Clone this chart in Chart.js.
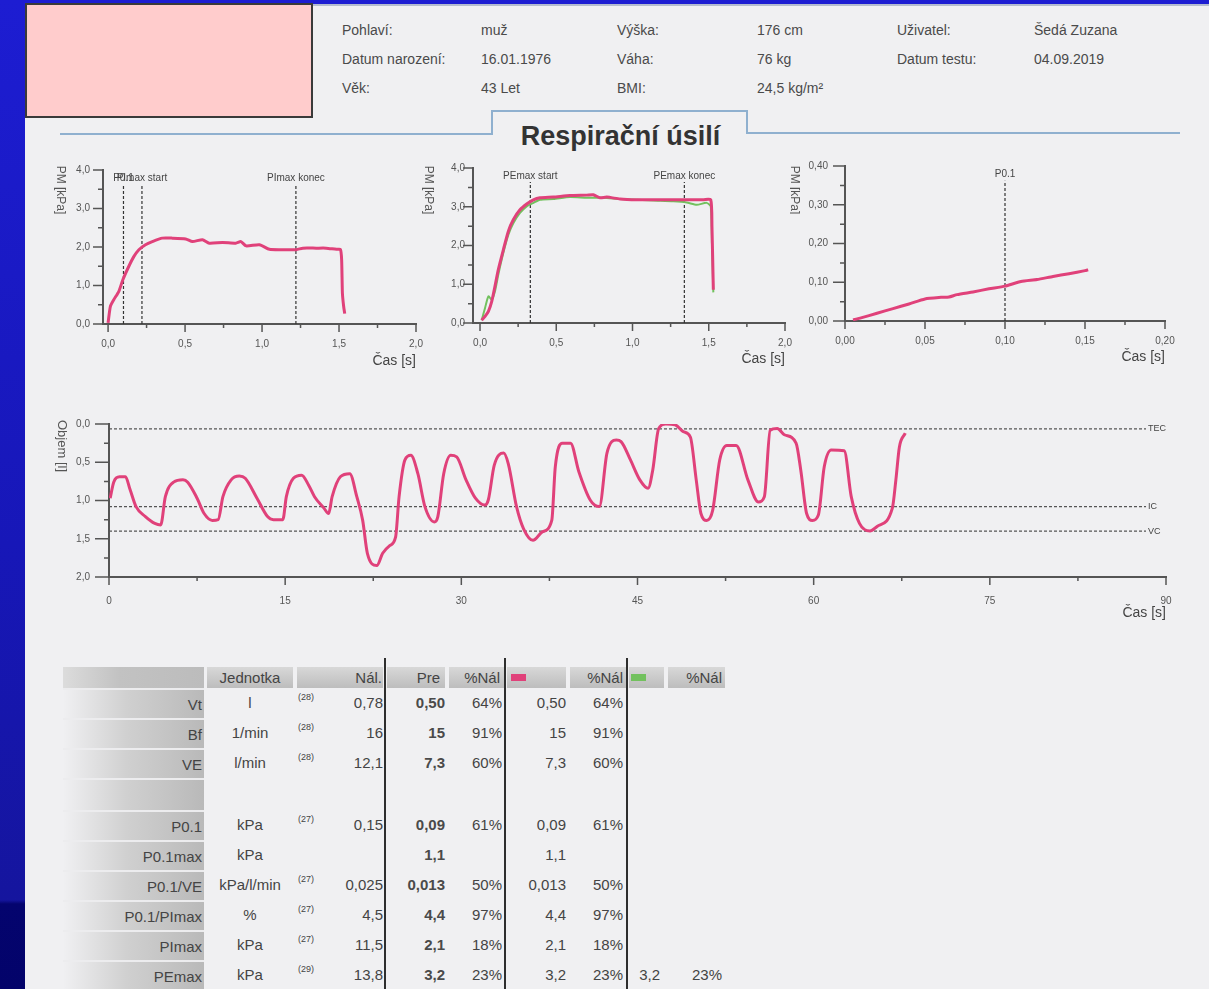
<!DOCTYPE html>
<html lang="cs">
<head>
<meta charset="utf-8">
<title>Respirační úsilí</title>
<script src="https://cdn.jsdelivr.net/npm/chart.js@4/dist/chart.umd.min.js"></script>
<style>
  html, body { margin: 0; padding: 0; }
  body {
    width: 1209px; height: 989px; overflow: hidden; position: relative;
    font-family: "Liberation Sans", Arial, sans-serif;
    background: linear-gradient(to bottom, #1d1dd2 0%, #1717b8 55%, #15159e 91%, #04046e 91.4%, #03036a 100%);
  }
  .abs { position: absolute; }
  #paper { left: 25px; top: 4px; width: 1184px; height: 985px; background: #f0f0f2; }
  #topEdge { left: 313px; top: 4px; width: 896px; height: 2px; background: #b4bccf; }
  #photo { left: 25px; top: 3px; width: 288px; height: 115px; background: #ffcccc; border: 2px solid #3a3a3a; box-sizing: border-box; }
  .info { font-size: 14px; color: #4a4a4a; line-height: 16px; white-space: nowrap; }
  .tab { background: #8fb0cf; }
  #title { left: 473px; width: 295px; top: 120px; text-align: center; font-size: 27px; font-weight: bold; color: #333; line-height: 32px; }
  canvas { position: absolute; }
  .cell { position: absolute; font-size: 15px; color: #444; white-space: nowrap; box-sizing: border-box; }
  .hcell { position: absolute; top: 667px; height: 21px; background: linear-gradient(to bottom, #d8d8d8, #bdbdbd); }
  .vline { position: absolute; top: 658px; width: 2px; height: 331px; background: #2e2e2e; }
</style>
</head>
<body>
<div id="paper" class="abs"></div>
<div id="topEdge" class="abs"></div>
<div id="photo" class="abs"></div>

<div class="abs info" style="left:342px;top:22px">Pohlaví:</div>
<div class="abs info" style="left:481px;top:22px">muž</div>
<div class="abs info" style="left:617px;top:22px">Výška:</div>
<div class="abs info" style="left:757px;top:22px">176 cm</div>
<div class="abs info" style="left:897px;top:22px">Uživatel:</div>
<div class="abs info" style="left:1034px;top:22px">Šedá Zuzana</div>
<div class="abs info" style="left:342px;top:51px">Datum narození:</div>
<div class="abs info" style="left:481px;top:51px">16.01.1976</div>
<div class="abs info" style="left:617px;top:51px">Váha:</div>
<div class="abs info" style="left:757px;top:51px">76 kg</div>
<div class="abs info" style="left:897px;top:51px">Datum testu:</div>
<div class="abs info" style="left:1034px;top:51px">04.09.2019</div>
<div class="abs info" style="left:342px;top:80px">Věk:</div>
<div class="abs info" style="left:481px;top:80px">43 Let</div>
<div class="abs info" style="left:617px;top:80px">BMI:</div>
<div class="abs info" style="left:757px;top:80px">24,5 kg/m²</div>

<div class="abs tab" style="left:60px;top:133px;width:433px;height:2px"></div>
<div class="abs tab" style="left:491px;top:110px;width:2px;height:25px"></div>
<div class="abs tab" style="left:491px;top:110px;width:257px;height:2px"></div>
<div class="abs tab" style="left:746px;top:110px;width:2px;height:24px"></div>
<div class="abs tab" style="left:746px;top:132px;width:434px;height:2px"></div>
<div id="title" class="abs">Respirační úsilí</div>

<canvas id="cPI" width="390" height="215" style="left:50px;top:160px"></canvas>
<canvas id="cPE" width="390" height="215" style="left:420px;top:158px"></canvas>
<canvas id="cP01" width="400" height="215" style="left:790px;top:156px"></canvas>
<canvas id="cVol" width="1140" height="225" style="left:50px;top:410px"></canvas>

<div id="table"></div>

<script>
// --- PImax: tlak v čase
const piTime  = [0.00, 0.015, 0.037, 0.07, 0.096, 0.135, 0.167, 0.20, 0.243, 0.287, 0.352, 0.417, 0.504, 0.548, 0.613, 0.657, 0.743, 0.83, 0.863, 0.896, 0.983, 1.048, 1.135, 1.222, 1.265, 1.352, 1.417, 1.483, 1.509, 1.517, 1.522, 1.53, 1.537];
const piValue = [0.03, 0.46, 0.63, 0.85, 1.15, 1.50, 1.75, 1.93, 2.06, 2.14, 2.23, 2.23, 2.21, 2.14, 2.19, 2.10, 2.12, 2.10, 2.14, 2.03, 2.06, 1.94, 1.93, 1.93, 1.97, 1.97, 1.97, 1.94, 1.94, 1.67, 0.80, 0.46, 0.27];
const piMarkTimes = [0.10, 0.22, 1.22];
const piMarkNames = ['P0.1', 'PImax start', 'PImax konec'];

// --- PEmax: dva pokusy
const peTime      = [0.011, 0.033, 0.055, 0.077, 0.098, 0.12, 0.153, 0.186, 0.219, 0.262, 0.306, 0.35, 0.393, 0.481, 0.59, 0.70, 0.743, 0.787, 0.831, 0.918, 1.027, 1.137, 1.246, 1.355, 1.464, 1.513, 1.521, 1.53];
const pePink      = [0.07, 0.17, 0.30, 0.56, 0.95, 1.38, 1.89, 2.37, 2.67, 2.92, 3.07, 3.18, 3.23, 3.25, 3.29, 3.30, 3.31, 3.23, 3.25, 3.20, 3.18, 3.18, 3.18, 3.18, 3.18, 3.18, 2.49, 0.86];
const greenTime   = [0.011, 0.033, 0.055, 0.077, 0.098, 0.12, 0.153, 0.186, 0.219, 0.262, 0.306, 0.35, 0.393, 0.481, 0.59, 0.70, 0.809, 0.918, 1.137, 1.268, 1.355, 1.421, 1.486, 1.513, 1.521, 1.53];
const peGreen     = [0.07, 0.39, 0.69, 0.60, 0.82, 1.25, 1.81, 2.28, 2.58, 2.84, 3.01, 3.10, 3.18, 3.20, 3.25, 3.23, 3.23, 3.20, 3.16, 3.14, 3.11, 3.05, 3.10, 3.01, 2.06, 0.79];
const peMarkTimes = [0.33, 1.34];
const peMarkNames = ['PEmax start', 'PEmax konec'];

// --- P0.1
const p01Time  = [0.005, 0.01, 0.02, 0.03, 0.04, 0.05, 0.06, 0.065, 0.07, 0.08, 0.09, 0.10, 0.11, 0.12, 0.13, 0.14, 0.15, 0.152];
const p01Value = [0.003, 0.008, 0.02, 0.032, 0.044, 0.057, 0.061, 0.062, 0.068, 0.075, 0.083, 0.09, 0.102, 0.107, 0.115, 0.122, 0.13, 0.132];
const p01MarkTimes = [0.10];
const p01MarkNames = ['P0.1'];

// --- objem v čase
const volTime  = [0.1, 0.4, 0.9, 1.4, 1.8, 2.3, 3.1, 3.9, 4.4, 4.8, 5.5, 6.3, 6.7, 7.5, 8.1, 8.8, 9.3, 9.7, 10.4, 11.1, 11.6, 12.6, 13.5, 14.0, 14.8, 15.1, 15.7, 16.4, 17.0, 17.5, 18.3, 18.7, 19.0, 19.7, 20.5, 21.1, 21.6, 22.0, 22.8, 23.3, 23.9, 24.4, 24.7, 25.2, 25.7, 26.3, 26.9, 27.7, 28.0, 28.5, 29.1, 29.6, 30.4, 31.2, 32.0, 32.3, 32.8, 33.6, 34.0, 34.7, 35.3, 36.1, 36.9, 37.7, 38.0, 38.6, 39.3, 40.0, 41.0, 41.75, 42.4, 43.2, 43.6, 44.4, 45.2, 45.9, 46.3, 46.8, 47.4, 48.2, 48.9, 49.5, 50.0, 50.4, 50.9, 51.4, 52.0, 52.6, 53.4, 54.4, 55.3, 55.8, 56.3, 56.9, 57.5, 58.5, 58.9, 59.4, 59.9, 60.4, 60.9, 61.5, 62.6, 63.2, 63.9, 64.8, 65.4, 66.7, 67.0, 67.3, 67.8];
const volValue = [0.97, 0.76, 0.69, 0.69, 0.86, 1.08, 1.21, 1.30, 1.32, 0.95, 0.76, 0.73, 0.76, 0.97, 1.17, 1.26, 1.25, 0.95, 0.73, 0.68, 0.71, 0.97, 1.21, 1.25, 1.25, 0.95, 0.71, 0.67, 0.80, 0.95, 1.10, 1.17, 0.95, 0.69, 0.65, 0.95, 1.26, 1.69, 1.85, 1.69, 1.59, 1.48, 0.95, 0.47, 0.41, 0.65, 1.08, 1.28, 1.21, 0.65, 0.41, 0.43, 0.73, 0.97, 1.06, 0.99, 0.54, 0.38, 0.52, 1.08, 1.37, 1.52, 1.41, 1.26, 0.56, 0.25, 0.25, 0.62, 1.00, 1.08, 0.38, 0.21, 0.23, 0.47, 0.73, 0.84, 0.60, 0.06, 0.00, 0.01, 0.10, 0.17, 0.73, 1.17, 1.26, 1.13, 0.47, 0.28, 0.28, 0.73, 1.02, 0.95, 0.08, 0.06, 0.14, 0.25, 0.60, 1.17, 1.26, 1.19, 0.56, 0.34, 0.35, 0.95, 1.30, 1.40, 1.34, 1.10, 0.73, 0.30, 0.12];
const volLevels = [0.065, 1.08, 1.40];
const volLevelNames = ['TEC', 'IC', 'VC'];
const volLevelEnd = 88.3;

// --- popisky os
const pTimeTicks   = [0, 0.25, 0.5, 0.75, 1.0, 1.25, 1.5, 1.75, 2.0];
const pTimeLabels  = ['0,0', '', '0,5', '', '1,0', '', '1,5', '', '2,0'];
const pValTicks    = [0, 0.5, 1, 1.5, 2, 2.5, 3, 3.5, 4];
const pValLabels   = ['0,0', '', '1,0', '', '2,0', '', '3,0', '', '4,0'];
const p01TimeTicks  = [0, 0.025, 0.05, 0.075, 0.1, 0.125, 0.15, 0.175, 0.2];
const p01TimeLabels = ['0,00', '', '0,05', '', '0,10', '', '0,15', '', '0,20'];
const p01ValTicks   = [0, 0.05, 0.1, 0.15, 0.2, 0.25, 0.3, 0.35, 0.4];
const p01ValLabels  = ['0,00', '', '0,10', '', '0,20', '', '0,30', '', '0,40'];
const volTimeTicks  = [0, 7.5, 15, 22.5, 30, 37.5, 45, 52.5, 60, 67.5, 75, 82.5, 90];
const volTimeLabels = ['0', '', '15', '', '30', '', '45', '', '60', '', '75', '', '90'];
const volValTicks   = [0, 0.25, 0.5, 0.75, 1, 1.25, 1.5, 1.75, 2];
const volValLabels  = ['0,0', '', '0,5', '', '1,0', '', '1,5', '', '2,0'];

// --- tabulka
const rowNames   = ['Vt', 'Bf', 'VE', '', 'P0.1', 'P0.1max', 'P0.1/VE', 'P0.1/PImax', 'PImax', 'PEmax'];
const rowUnits   = ['l', '1/min', 'l/min', '', 'kPa', 'kPa', 'kPa/l/min', '%', 'kPa', 'kPa'];
const rowRefs    = ['(28)', '(28)', '(28)', '', '(27)', '', '(27)', '(27)', '(27)', '(29)'];
const rowNal     = ['0,78', '16', '12,1', '', '0,15', '', '0,025', '4,5', '11,5', '13,8'];
const rowPre     = ['0,50', '15', '7,3', '', '0,09', '1,1', '0,013', '4,4', '2,1', '3,2'];
const rowPrePct  = ['64%', '91%', '60%', '', '61%', '', '50%', '97%', '18%', '23%'];
const rowPink    = ['0,50', '15', '7,3', '', '0,09', '1,1', '0,013', '4,4', '2,1', '3,2'];
const rowPinkPct = ['64%', '91%', '60%', '', '61%', '', '50%', '97%', '18%', '23%'];
const rowGreen   = ['', '', '', '', '', '', '', '', '', '3,2'];
const rowGreenPct= ['', '', '', '', '', '', '', '', '', '23%'];

const PINK = '#e0417a';
const GREEN = '#72c15e';
const AXIS = '#555';

const pts = (xs, ys) => xs.map((x, i) => ({ x, y: ys[i] }));

// svislé čárkované značky
function markerSets(times, topVal) {
  return times.map(t => ({
    data: [{ x: t, y: 0 }, { x: t, y: topVal }],
    borderColor: '#333', borderWidth: 1.2, borderDash: [3, 2], pointRadius: 0
  }));
}

// vodorovné čárkované úrovně
function levelSets(levels, end) {
  return levels.map(v => ({
    data: [{ x: 0, y: v }, { x: end, y: v }],
    borderColor: '#555', borderWidth: 1.3, borderDash: [3, 2], pointRadius: 0
  }));
}

// tl = odstup popisků od osy (tickLength se počítá i se skrytou mřížkou)
function axis(o) {
  return {
    type: 'linear', min: o.min, max: o.max, reverse: !!o.reverse,
    grid: { display: false, tickLength: o.tl },
    border: { display: true, color: AXIS, width: 2 },
    afterBuildTicks: s => { s.ticks = o.ticks.map(v => ({ value: v })); },
    afterFit: s => { if (o.w) s.width = o.w; if (o.h) s.height = o.h; },
    ticks: {
      autoSkip: false, maxRotation: 0, padding: o.pad,
      color: '#555', font: { size: 10, family: 'Liberation Sans, Arial' },
      callback: (v, i) => o.labels[i]
    },
    title: o.title ? {
      display: true, text: o.title, align: 'end', color: '#444',
      font: { size: 14, family: 'Liberation Sans, Arial' },
      padding: { top: 0, bottom: o.titlePad }
    } : { display: false }
  };
}

// kreslí zářezy os, svislý popisek osy y a popisky značek
const decor = {
  id: 'decor',
  afterDraw(chart, args, o) {
    const { ctx, chartArea: a, scales: { x, y } } = chart;
    ctx.save();
    ctx.strokeStyle = AXIS;
    ctx.lineWidth = 1.5;
    ctx.beginPath();
    x.ticks.forEach(t => {
      const px = x.getPixelForValue(t.value);
      ctx.moveTo(px, a.bottom);
      ctx.lineTo(px, a.bottom + (t.label ? 8 : 4));
    });
    y.ticks.forEach(t => {
      const py = y.getPixelForValue(t.value);
      ctx.moveTo(a.left, py);
      ctx.lineTo(a.left - (t.label ? o.tickLen : 5), py);
    });
    ctx.stroke();

    ctx.fillStyle = '#555';
    ctx.font = o.yTitleSize + 'px "Liberation Sans", Arial';
    ctx.textAlign = 'center';
    ctx.textBaseline = 'middle';
    ctx.save();
    ctx.translate(a.left + o.yTitleX, a.top + o.yTitleY);
    ctx.rotate(Math.PI / 2);
    ctx.fillText(o.yTitle, 0, 0);
    ctx.restore();

    ctx.font = '10px "Liberation Sans", Arial';
    ctx.fillStyle = '#444';
    (o.marks || []).forEach((t, i) => {
      ctx.fillText(o.markNames[i], x.getPixelForValue(t), a.top + 8);
    });
    ctx.textAlign = 'left';
    ctx.font = '9px "Liberation Sans", Arial';
    (o.levels || []).forEach((v, i) => {
      ctx.fillText(o.levelNames[i], x.getPixelForValue(o.levelEnd) + 2, y.getPixelForValue(v));
    });
    ctx.restore();
  }
};

function makeChart(id, datasets, xAxis, yAxis, padding, decorOpts) {
  return new Chart(document.getElementById(id), {
    type: 'line',
    data: { datasets },
    options: {
      responsive: false, animation: false, devicePixelRatio: 1,
      layout: { padding },
      elements: { line: { fill: false } },
      plugins: { legend: { display: false }, tooltip: { enabled: false }, decor: decorOpts },
      scales: { x: xAxis, y: yAxis }
    },
    plugins: [decor]
  });
}

const curve = (data, color, width) => ({
  data, borderColor: color, borderWidth: width, pointRadius: 0, tension: 0.2
});

// první dataset se kreslí navrch
makeChart('cPI',
  [curve(pts(piTime, piValue), PINK, 3), ...markerSets(piMarkTimes, 3.62)],
  axis({ min: -0.033, max: 2.0, ticks: pTimeTicks, labels: pTimeLabels, tl: 8, pad: 6, h: 51, title: 'Čas [s]', titlePad: 5 }),
  axis({ min: 0, max: 4, ticks: pValTicks, labels: pValLabels, tl: 13, pad: 0, w: 53 }),
  { top: 10, right: 24, bottom: 0, left: 0 },
  { yTitle: 'PM [kPa]', yTitleSize: 12, yTitleX: -43, yTitleY: 20, tickLen: 10, marks: piMarkTimes, markNames: piMarkNames });

makeChart('cPE',
  [curve(pts(peTime, pePink), PINK, 3), curve(pts(greenTime, peGreen), GREEN, 2), ...markerSets(peMarkTimes, 3.64)],
  axis({ min: -0.046, max: 2.0, ticks: pTimeTicks, labels: pTimeLabels, tl: 8, pad: 6, h: 50, title: 'Čas [s]', titlePad: 5 }),
  axis({ min: 0, max: 4, ticks: pValTicks, labels: pValLabels, tl: 8, pad: 0, w: 53 }),
  { top: 10, right: 25, bottom: 0, left: 0 },
  { yTitle: 'PM [kPa]', yTitleSize: 12, yTitleX: -45, yTitleY: 22, tickLen: 10, marks: peMarkTimes, markNames: peMarkNames });

makeChart('cP01',
  [curve(pts(p01Time, p01Value), PINK, 3), ...markerSets(p01MarkTimes, 0.362)],
  axis({ min: 0, max: 0.2, ticks: p01TimeTicks, labels: p01TimeLabels, tl: 8, pad: 6, h: 50, title: 'Čas [s]', titlePad: 5 }),
  axis({ min: 0, max: 0.4, ticks: p01ValTicks, labels: p01ValLabels, tl: 17, pad: 0, w: 55 }),
  { top: 10, right: 25, bottom: 0, left: 0 },
  { yTitle: 'PM [kPa]', yTitleSize: 12, yTitleX: -51, yTitleY: 24, tickLen: 12, marks: p01MarkTimes, markNames: p01MarkNames });

makeChart('cVol',
  [{ ...curve(pts(volTime, volValue), PINK, 3), tension: 0, cubicInterpolationMode: 'monotone' }, ...levelSets(volLevels, volLevelEnd)],
  axis({ min: 0, max: 90, ticks: volTimeTicks, labels: volTimeLabels, tl: 8, pad: 10, h: 58, title: 'Čas [s]', titlePad: 13 }),
  axis({ min: 0, max: 2, reverse: true, ticks: volValTicks, labels: volValLabels, tl: 19, pad: 0, w: 59 }),
  { top: 14, right: 24, bottom: 0, left: 0 },
  { yTitle: 'Objem [l]', yTitleSize: 13, yTitleX: -47, yTitleY: 22, tickLen: 14, levels: volLevels, levelNames: volLevelNames, levelEnd: volLevelEnd });

// --- tabulka hodnot
const table = document.getElementById('table');
const headCells = [[63, 141], [207, 86], [297, 86], [387, 58], [449, 55], [507, 59], [570, 56], [629, 35], [668, 57]];
headCells.forEach(([x, w], i) => {
  const d = document.createElement('div');
  d.className = 'hcell';
  d.style.left = x + 'px';
  d.style.width = w + 'px';
  if (i === 0) d.style.background = 'linear-gradient(to right, #dcdcdc, #c2c2c2 40%, #bcbcbc)';
  table.appendChild(d);
});

function cell(text, x, w, y, h, align, extra) {
  const d = document.createElement('div');
  d.className = 'cell';
  d.textContent = text;
  Object.assign(d.style, { left: x + 'px', width: w + 'px', top: y + 'px', height: h + 'px', lineHeight: h + 'px', textAlign: align }, extra || {});
  table.appendChild(d);
  return d;
}

const headTop = 667, headH = 21;
cell('Jednotka', 207, 86, headTop, headH, 'center');
cell('Nál.', 297, 85, headTop, headH, 'right');
cell('Pre', 387, 53, headTop, headH, 'right');
cell('%Nál', 449, 51, headTop, headH, 'right');
cell('%Nál', 570, 53, headTop, headH, 'right');
cell('%Nál', 668, 54, headTop, headH, 'right');
[[PINK, 511], [GREEN, 631]].forEach(([c, x]) => {
  const s = document.createElement('div');
  Object.assign(s.style, { position: 'absolute', left: x + 'px', top: '674px', width: '15px', height: '7px', background: c });
  table.appendChild(s);
});

let rowTop = 688;
rowNames.forEach((name, i) => {
  const h = name === '' ? 32 : 30;
  cell(name, 63, 141, rowTop, h, 'right', {
    paddingRight: '2px',
    background: 'linear-gradient(to right, rgba(240,240,242,1) 0%, #d0d0d0 45%, #b9b9b9 100%)',
    borderTop: '2px solid #ececee'
  });
  cell(rowUnits[i], 207, 86, rowTop, h, 'center');
  cell(rowRefs[i], 298, 24, rowTop + 3, 12, 'left', { fontSize: '9px', lineHeight: '12px' });
  cell(rowNal[i], 322, 61, rowTop, h, 'right');
  cell(rowPre[i], 386, 59, rowTop, h, 'right', { fontWeight: 'bold', color: '#4a4a4a' });
  cell(rowPrePct[i], 445, 57, rowTop, h, 'right');
  cell(rowPink[i], 506, 60, rowTop, h, 'right');
  cell(rowPinkPct[i], 566, 57, rowTop, h, 'right');
  cell(rowGreen[i], 628, 32, rowTop, h, 'right');
  cell(rowGreenPct[i], 660, 62, rowTop, h, 'right');
  rowTop += h;
});

[384, 504, 626].forEach(x => {
  const v = document.createElement('div');
  v.className = 'vline';
  v.style.left = x + 'px';
  table.appendChild(v);
});
</script>
</body>
</html>
